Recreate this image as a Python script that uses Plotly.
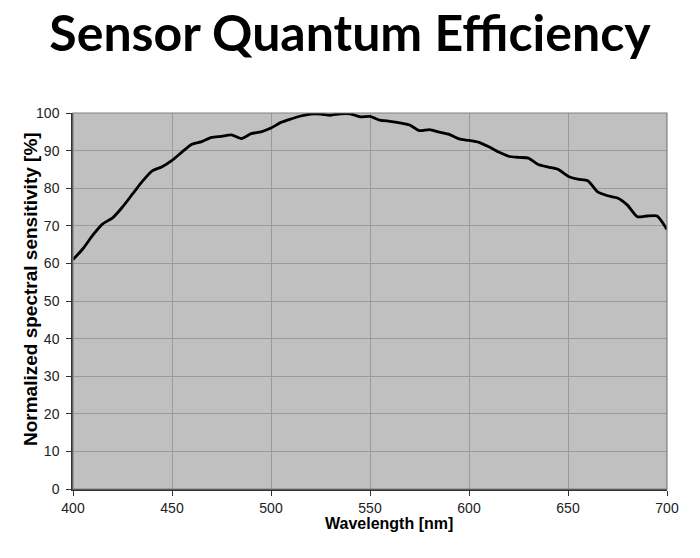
import plotly.graph_objects as go

wavelength = [400, 405, 410, 415, 420, 425, 430, 435, 440, 445, 450, 455, 460, 465, 470,
              475, 480, 485, 490, 495, 500, 505, 510, 515, 520, 525, 530, 535, 540, 545,
              550, 555, 560, 565, 570, 575, 580, 585, 590, 595, 600, 605, 610, 615, 620,
              625, 630, 635, 640, 645, 650, 655, 660, 665, 670, 675, 680, 685, 690, 695, 700]
sensitivity = [61.0, 63.9, 67.5, 70.5, 72.1, 75.0, 78.4, 81.8, 84.6, 85.7, 87.4, 89.6, 91.7, 92.4, 93.5,
               93.8, 94.2, 93.2, 94.5, 95.0, 96.0, 97.5, 98.4, 99.2, 99.7, 99.7, 99.4, 99.8, 99.8, 99.0,
               99.1, 98.1, 97.8, 97.4, 96.8, 95.3, 95.6, 94.9, 94.3, 93.1, 92.7, 92.2, 91.0, 89.6, 88.5,
               88.2, 88.0, 86.3, 85.6, 85.0, 83.2, 82.4, 82.0, 79.0, 78.0, 77.4, 75.5, 72.4, 72.6, 72.6, 69.0]

x_ticks = [400, 450, 500, 550, 600, 650, 700]
y_ticks = [0, 10, 20, 30, 40, 50, 60, 70, 80, 90, 100]

title_text = "Sensor Quantum Efficiency"
x_title = "Wavelength [nm]"
y_title = "Normalized spectral sensitivity [%]"

fig = go.Figure()
fig.add_trace(go.Scatter(
    x=wavelength, y=sensitivity, mode="lines",
    line=dict(color="black", width=2.8, shape="spline", smoothing=0.6),
    showlegend=False, hoverinfo="skip",
))

tick_font = dict(family="Liberation Sans, Arial, sans-serif", size=14, color="#222")

fig.update_layout(
    width=700, height=558,
    margin=dict(l=73, r=33, t=113, b=69),
    paper_bgcolor="white", plot_bgcolor="#c0c0c0",
    title=dict(text="<b>" + title_text + "</b>", x=0.5, xanchor="center",
               y=1 - 33 / 558, yanchor="middle",
               font=dict(family="Lato, sans-serif", size=50, color="black")),
    xaxis=dict(range=[400, 700], tickvals=x_ticks, ticks="outside", ticklen=5, tickcolor="#333",
               showline=True, linecolor="#333", linewidth=1.5,
               showgrid=True, gridcolor="#9a9a9a", gridwidth=1.2, zeroline=False,
               tickfont=tick_font),
    yaxis=dict(range=[0, 100], tickvals=y_ticks, ticks="outside", ticklen=5, tickcolor="#333",
               showline=True, linecolor="#333", linewidth=1.5, ticklabelstandoff=4,
               showgrid=True, gridcolor="#9a9a9a", gridwidth=1.2, zeroline=False,
               tickfont=tick_font),
    shapes=[dict(type="rect", xref="paper", yref="paper", x0=0, x1=1, y0=0, y1=1,
                 line=dict(color="#808080", width=1.2), layer="above")],
    annotations=[
        dict(text="<b>" + x_title + "</b>", xref="paper", yref="paper",
             x=(389 - 73) / 594, y=-(523 - 489) / 376, xanchor="center", yanchor="middle",
             showarrow=False,
             font=dict(family="Liberation Sans, Arial, sans-serif", size=16, color="black")),
        dict(text="<b>" + y_title + "</b>", xref="paper", yref="paper",
             x=-(73 - 30) / 594, y=(489 - 289) / 376, xanchor="center", yanchor="middle",
             textangle=-90, showarrow=False,
             font=dict(family="Liberation Sans, Arial, sans-serif", size=19, color="black")),
    ],
)

fig.write_html("out.html")
